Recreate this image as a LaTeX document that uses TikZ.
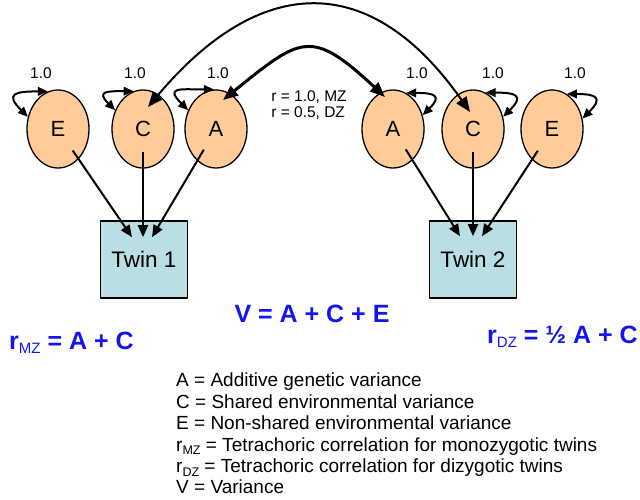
\documentclass[tikz,border=0pt]{standalone}
\usepackage{fontspec}
\setmainfont{Liberation Sans}
\usetikzlibrary{arrows.meta,calc,shapes.geometric}
\definecolor{peach}{RGB}{255,204,153}
\definecolor{twinblue}{RGB}{185,222,227}
\definecolor{formblue}{RGB}{20,20,240}
\newcommand{\lowsub}[2]{\raisebox{-0.35ex}{\fontsize{#1}{#1}\selectfont\mdseries #2}}

\begin{document}
\begin{tikzpicture}[x=1pt, y=1pt, line join=round,
  factor/.style={ellipse, draw, line width=1.3pt, fill=peach, minimum width=62pt, minimum height=78pt, inner sep=0pt, font=\fontsize{22}{22}\selectfont},
  twin/.style={rectangle, draw, line width=1.6pt, fill=twinblue, minimum width=87pt, minimum height=77pt, font=\fontsize{22.5}{22.5}\selectfont},
  effect/.style={line width=2pt, -{Triangle[length=12pt,width=10pt]}},
  varloop/.style={line width=2pt, {Triangle[length=10pt,width=8.5pt]}-{Triangle[length=10pt,width=8.5pt]}, looseness=2.6},
  corr/.style={{Triangle[length=15pt,width=12pt]}-{Triangle[length=15pt,width=12pt]}},
  small/.style={font=\fontsize{15.5}{16}\selectfont, inner sep=0pt},
  formula/.style={font=\fontsize{25}{25}\selectfont\bfseries, text=formblue, inner sep=0pt},
  legend/.style={font=\fontsize{19}{21.4}\selectfont, inner sep=0pt, align=left}]

\useasboundingbox (0,0) rectangle (640,499);

\node[factor] (e1) at (58,370) {E};
\node[factor] (c1) at (143,370) {C};
\node[factor] (a1) at (216,370) {A};
\node[factor] (a2) at (393,370) {A};
\node[factor] (c2) at (473,370) {C};
\node[factor] (e2) at (552,370) {E};

\node[twin] (twin1) at (144,239.5) {Twin 1};
\node[twin] (twin2) at (473,239.5) {Twin 2};

\coordinate (t1e) at ($(twin1.north)+(-12,-17)$);
\coordinate (t1c) at ($(twin1.north)+(-1,-17)$);
\coordinate (t1a) at ($(twin1.north)+(8,-17)$);
\coordinate (t2a) at ($(twin2.north)+(-13,-16)$);
\coordinate (t2c) at ($(twin2.north)+(0,-16)$);
\coordinate (t2e) at ($(twin2.north)+(9,-16)$);

\draw[effect, shorten <=26pt] (e1.center) -- (t1e);
\draw[effect, shorten <=23pt] (c1.center) -- (t1c);
\draw[effect, shorten <=24pt] (a1.center) -- (t1a);
\draw[effect, shorten <=24pt] (a2.center) -- (t2a);
\draw[effect, shorten <=23pt] (c2.center) -- (t2c);
\draw[effect, shorten <=26pt] (e2.center) -- (t2e);

\draw[varloop] (e1.105) to[out=180,in=135] (e1.158);
\draw[varloop] (c1.104) to[out=180,in=135] (c1.146);
\draw[varloop] (a1.93) to[out=180,in=135] (a1.146);
\draw[varloop] (a2.70) to[out=0,in=45] (a2.25);
\draw[varloop] (c2.71) to[out=0,in=45] (c2.22);
\draw[varloop] (e2.67) to[out=0,in=45] (e2.19);

\node[small] (ve1) at (41,426) {1.0};
\node[small] (vc1) at (135,426) {1.0};
\node[small] (va1) at (218,426) {1.0};
\node[small] (va2) at (417,426) {1.0};
\node[small] (vc2) at (493,426) {1.0};
\node[small] (ve2) at (575,426) {1.0};

\coordinate (c1tip) at ($(c1.center)+(5,22)$);
\coordinate (c2tip) at ($(c2.center)+(-3,17)$);
\coordinate (a1tip) at ($(a1.center)+(7,29)$);
\coordinate (a2tip) at ($(a2.center)+(-8,32)$);

\draw[corr, line width=2pt] (c1tip) to[out=50,in=125,looseness=1.38] (c2tip);
\draw[corr, line width=3pt] (a1tip) to[out=39,in=137,looseness=1.59] (a2tip);

\node[small, align=left] (rlab) at (309,394) {r = 1.0, MZ\\r = 0.5, DZ};

\node[formula, anchor=base] (vform) at (312,177) {V = A + C + E};
\node[formula, anchor=base west] (rmz) at (9,150) {r\lowsub{15}{MZ} = A + C};
\node[formula, anchor=base east] (rdz) at (638,156) {r\lowsub{15}{DZ} = ½ A + C};

\node[legend, anchor=north west] (key) at (176,126) {A = Additive genetic variance\\
C = Shared environmental variance\\
E = Non-shared environmental variance\\
r\lowsub{12.5}{MZ} = Tetrachoric correlation for monozygotic twins\\
r\lowsub{12.5}{DZ} = Tetrachoric correlation for dizygotic twins\\
V = Variance};
\end{tikzpicture}
\end{document}
